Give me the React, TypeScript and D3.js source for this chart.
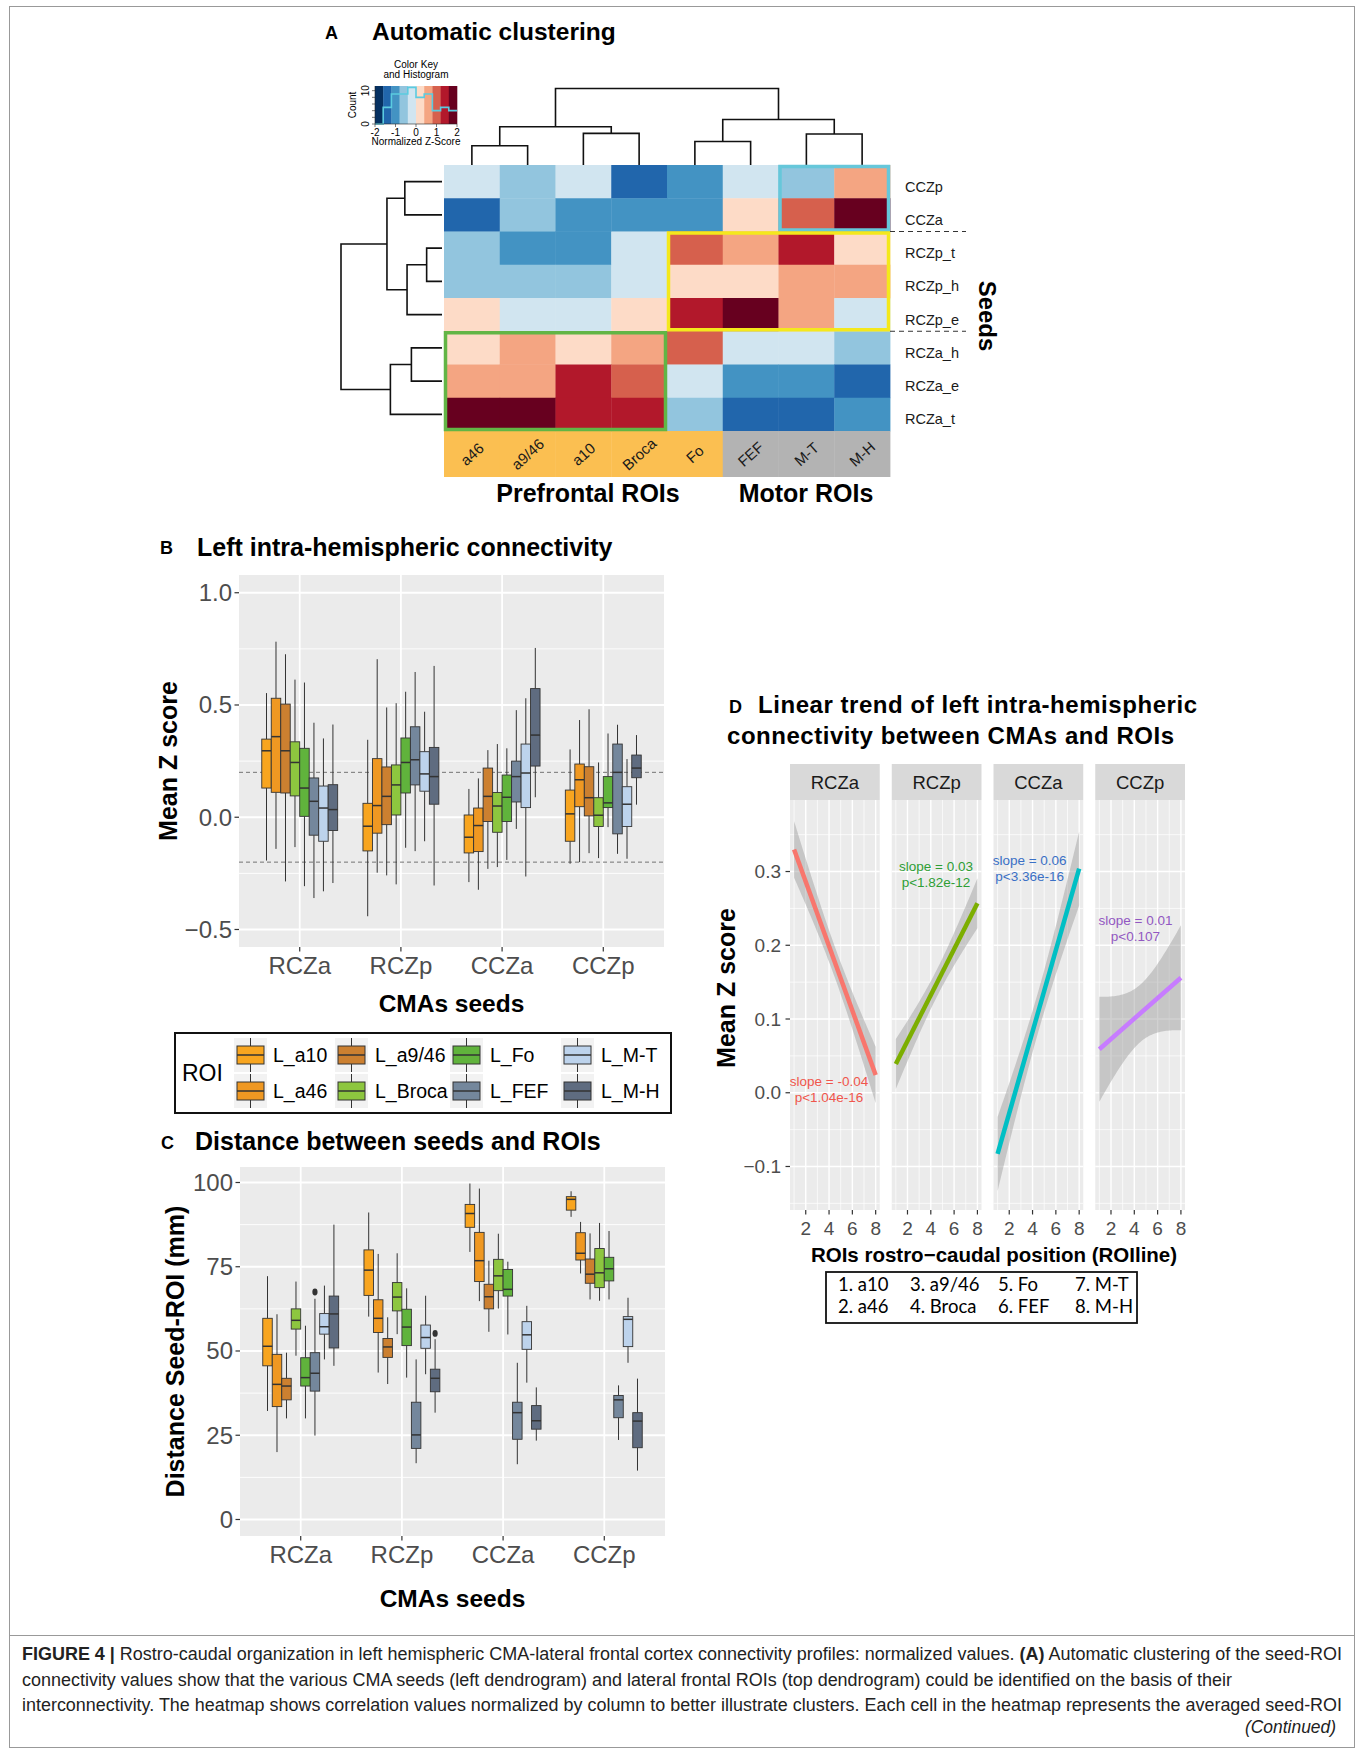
import React from 'react';
import * as d3 from 'd3';

const FONT = '"Liberation Sans", Arial, Helvetica, sans-serif';

// ---------- Panel A : heatmap ----------
const HM_COLS = ['a46', 'a9/46', 'a10', 'Broca', 'Fo', 'FEF', 'M-T', 'M-H'];
const HM_ROWS = ['CCZp', 'CCZa', 'RCZp_t', 'RCZp_h', 'RCZp_e', 'RCZa_h', 'RCZa_e', 'RCZa_t'];
const HM_Z = [
  [-0.2, -0.6, -0.2, -1.4, -1.0, -0.2, -0.6, 0.6],
  [-1.4, -0.6, -1.0, -1.0, -1.0, 0.2, 1.0, 1.8],
  [-0.6, -1.0, -1.0, -0.2, 1.0, 0.6, 1.4, 0.2],
  [-0.6, -0.6, -0.6, -0.2, 0.2, 0.2, 0.6, 0.6],
  [0.2, -0.2, -0.2, 0.2, 1.4, 1.8, 0.6, -0.2],
  [0.2, 0.6, 0.2, 0.6, 1.0, -0.2, -0.2, -0.6],
  [0.6, 0.6, 1.4, 1.0, -0.2, -1.0, -1.0, -1.4],
  [1.8, 1.8, 1.4, 1.4, -0.6, -1.4, -1.4, -1.0],
];
const HM_COL_GROUP = ['Prefrontal', 'Prefrontal', 'Prefrontal', 'Prefrontal', 'Prefrontal', 'Motor', 'Motor', 'Motor'];
const KEY_TICKS = [-2, -1, 0, 1, 2];
const KEY_BREAKS = [-1.6, -1.2, -0.8, -0.4, 0, 0.4, 0.8, 1.2, 1.6];

// merge heights of the two dendrograms (relative to the root)
const COL_TREE = {
  h: 1.0, children: [
    { h: 0.5, children: [{ h: 0.251, children: [{ name: 'a46' }, { name: 'a9/46' }] }, { h: 0.414, children: [{ name: 'a10' }, { name: 'Broca' }] }] },
    { h: 0.595, children: [{ h: 0.308, children: [{ name: 'Fo' }, { name: 'FEF' }] }, { h: 0.405, children: [{ name: 'M-T' }, { name: 'M-H' }] }] },
  ],
};
const ROW_TREE = {
  h: 1.0, children: [
    { h: 0.545, children: [
      { h: 0.368, children: [{ name: 'CCZp' }, { name: 'CCZa' }] },
      { h: 0.346, children: [{ h: 0.152, children: [{ name: 'RCZp_t' }, { name: 'RCZp_h' }] }, { name: 'RCZp_e' }] },
    ] },
    { h: 0.511, children: [{ h: 0.303, children: [{ name: 'RCZa_h' }, { name: 'RCZa_e' }] }, { name: 'RCZa_t' }] },
  ],
};
const HM_BOXES = [
  { cols: ['M-T', 'M-H'], rows: ['CCZp', 'CCZa'] },
  { cols: ['Fo', 'M-H'], rows: ['RCZp_t', 'RCZp_e'] },
  { cols: ['a46', 'Broca'], rows: ['RCZa_h', 'RCZa_t'] },
];
const HM_BOX_COLORS = ['#66C7DA', '#F4E81C', '#62B545'];

// ---------- Panels B & C : boxplots ----------
const SEEDS = ['RCZa', 'RCZp', 'CCZa', 'CCZp'];
const ROIS = ['L_a10', 'L_a46', 'L_a9/46', 'L_Broca', 'L_Fo', 'L_FEF', 'L_M-T', 'L_M-H'];
const ROI_COLORS = ['#F8A51F', '#EF9822', '#CC8030', '#8DC63F', '#60B33C', '#74879C', '#BDD3EC', '#5F6C80'];

// [lower whisker, Q1, median, Q3, upper whisker]
const B_RCZA = [
  [-0.193, 0.130, 0.296, 0.348, 0.553], [-0.141, 0.111, 0.359, 0.530, 0.782],
  [-0.286, 0.108, 0.296, 0.504, 0.726], [-0.133, 0.095, 0.244, 0.336, 0.613],
  [-0.307, 0.004, 0.130, 0.307, 0.600], [-0.360, -0.080, 0.071, 0.175, 0.421],
  [-0.330, -0.107, 0.041, 0.139, 0.351], [-0.293, -0.059, 0.034, 0.145, 0.413],
];
const B_RCZP = [
  [-0.441, -0.150, -0.040, 0.062, 0.345], [-0.247, -0.071, 0.052, 0.261, 0.704],
  [-0.259, -0.033, 0.093, 0.224, 0.489], [-0.299, 0.010, 0.144, 0.233, 0.508],
  [-0.136, 0.108, 0.244, 0.353, 0.559], [-0.151, 0.144, 0.256, 0.403, 0.647],
  [-0.107, 0.116, 0.193, 0.292, 0.470], [-0.304, 0.058, 0.181, 0.311, 0.674],
];
const B_CCZA = [
  [-0.289, -0.159, -0.089, 0.010, 0.126], [-0.323, -0.153, -0.037, 0.041, 0.173],
  [-0.230, -0.019, 0.093, 0.219, 0.299], [-0.222, -0.067, 0.050, 0.110, 0.326],
  [-0.190, -0.019, 0.089, 0.188, 0.307], [-0.052, 0.068, 0.181, 0.250, 0.477],
  [-0.264, 0.043, 0.197, 0.326, 0.530], [0.089, 0.228, 0.366, 0.573, 0.754],
];
const B_CCZP = [
  [-0.207, -0.107, 0.015, 0.121, 0.302], [-0.200, 0.047, 0.167, 0.237, 0.433],
  [-0.160, 0.006, 0.087, 0.225, 0.481], [-0.182, -0.041, 0.009, 0.087, 0.244],
  [-0.044, 0.043, 0.064, 0.181, 0.373], [-0.163, -0.074, 0.200, 0.326, 0.412],
  [-0.185, -0.041, 0.058, 0.136, 0.259], [0.056, 0.176, 0.219, 0.277, 0.366],
];
const B_TICKS = [-0.5, 0, 0.5, 1.0];
const B_MINOR = [-0.25, 0.25, 0.75];
const B_REFS = [-0.2, 0.2];

const C_RCZA = [
  [32.2, 45.6, 51.4, 59.7, 72.2], [20.0, 33.5, 40.1, 49.0, 60.9],
  [30.0, 35.5, 39.6, 41.9, 49.5], [48.6, 56.5, 59.1, 62.5, 70.6],
  [30.0, 39.6, 42.1, 48.0, 57.5], [24.9, 38.1, 43.4, 49.5, 65.5],
  [47.5, 55.0, 57.2, 61.1, 69.4], [45.6, 50.9, 61.0, 66.3, 87.5],
];
const C_RCZP = [
  [60.2, 66.5, 74.0, 80.0, 91.1], [43.6, 55.5, 59.7, 65.2, 78.8],
  [40.2, 48.1, 51.2, 53.7, 60.0], [55.0, 61.9, 66.0, 70.3, 79.0],
  [42.1, 51.6, 57.1, 62.4, 68.6], [16.7, 21.1, 25.1, 34.8, 47.5],
  [43.1, 50.8, 54.0, 57.7, 66.4], [31.7, 37.9, 41.9, 44.6, 53.5],
];
const C_CCZA = [
  [79.4, 86.7, 90.8, 93.5, 99.7], [64.8, 70.6, 76.8, 85.2, 98.2],
  [55.7, 62.5, 66.1, 69.8, 76.8], [62.6, 67.9, 72.3, 77.2, 84.8],
  [54.9, 66.3, 68.3, 74.2, 76.5], [16.4, 23.8, 31.7, 34.8, 46.5],
  [40.6, 50.5, 54.8, 58.7, 63.4], [23.4, 26.8, 29.3, 33.8, 39.2],
];
const C_CCZP = [
  [89.8, 91.8, 95.0, 95.8, 97.4], [73.0, 77.0, 79.0, 85.1, 88.3],
  [65.3, 70.1, 72.8, 77.3, 84.9], [64.9, 68.8, 73.2, 80.4, 88.0],
  [65.3, 70.8, 74.4, 77.8, 85.6], [23.6, 30.2, 35.5, 36.8, 39.8],
  [46.5, 51.3, 59.4, 60.2, 65.8], [14.5, 21.3, 29.2, 31.7, 41.8],
];
const C_OUTLIERS: [string, string, number][] = [['RCZa', 'L_FEF', 67.5], ['RCZp', 'L_M-H', 55.2]];
const C_TICKS = [0, 25, 50, 75, 100];
const C_MINOR = [12.5, 37.5, 62.5, 87.5];

// ---------- Panel D : linear trends ----------
const D_FIT_AT_1 = [0.330, 0.039, -0.083, 0.059];
const D_FIT_AT_8 = [0.024, 0.257, 0.304, 0.156];
const D_SE_MID = [0.021, 0.0185, 0.0275, 0.039];
const D_COLORS = ['#F8766D', '#7CAE00', '#00BFC4', '#C77CFF'];
const D_TEXT_COLORS = ['#F0564C', '#2E9E35', '#3A70C6', '#9258C2'];
const D_SLOPE_TXT = ['slope = -0.04', 'slope = 0.03', 'slope = 0.06', 'slope = 0.01'];
const D_P_TXT = ['p<1.04e-16', 'p<1.82e-12', 'p<3.36e-16', 'p<0.107'];
const D_LABEL_X = [4.0, 4.45, 3.75, 4.1];
const D_LABEL_Y = [0.016, 0.308, 0.315, 0.234];
const D_YTICKS = [-0.1, 0, 0.1, 0.2, 0.3];
const D_YMINOR = [-0.15, -0.05, 0.05, 0.15, 0.25, 0.35];
const D_XTICKS = [2, 4, 6, 8];
const D_XMINOR = [1, 3, 5, 7];
const D_LEGEND = [['1. a10', '2. a46'], ['3. a9/46', '4. Broca'], ['5. Fo', '6. FEF'], ['7. M-T', '8. M-H']];

const CAPTION_2 = 'connectivity values show that the various CMA seeds (left dendrogram) and lateral frontal ROIs (top dendrogram) could be identified on the basis of their';
const CAPTION_3 = 'interconnectivity. The heatmap shows correlation values normalized by column to better illustrate clusters. Each cell in the heatmap represents the averaged seed-ROI';

// ------------------------------------------------------------------

type Tree = { h?: number; name?: string; children?: Tree[] };

function dendro(tree: Tree, leafPos: (n: string) => number) {
  const segs: { p1: number; h1: number; p2: number; h2: number; h: number }[] = [];
  const walk = (t: Tree): { p: number; h: number } => {
    if (!t.children) return { p: leafPos(t.name!), h: 0 };
    const [a, b] = t.children.map(walk);
    segs.push({ p1: a.p, h1: a.h, p2: b.p, h2: b.h, h: t.h! });
    return { p: (a.p + b.p) / 2, h: t.h! };
  };
  walk(tree);
  return segs;
}

function PanelA() {
  const cx = d3.scaleBand(HM_COLS, [444, 890]);
  const ry = d3.scaleBand(HM_ROWS, [165, 431]);
  const palette = d3.schemeRdBu[10].slice().reverse();
  const color = d3.scaleQuantize<string>().domain([-2, 2]).range(palette);
  const topH = d3.scaleLinear([0, 1], [165, 88.5]);
  const leftH = d3.scaleLinear([0, 1], [442, 341]);
  const colSegs = dendro(COL_TREE, (n) => cx(n)! + cx.bandwidth() / 2);
  const rowSegs = dendro(ROW_TREE, (n) => ry(n)! + ry.bandwidth() / 2);

  // color key
  const kx = d3.scaleLinear([-2, 2], [375, 457]);
  const allZ = HM_Z.flat();
  const bins = d3.bin().domain([-2, 2]).thresholds(KEY_BREAKS)(allZ);
  const ky = d3.scaleLinear([0, 11.4], [124, 86]);
  const histPts: [number, number][] = bins.map((b) => [b.x0!, b.length]);
  histPts.push([2, bins[bins.length - 1].length]);
  const histLine = d3.line<[number, number]>().x((d) => kx(d[0])).y((d) => ky(d[1])).curve(d3.curveStepAfter);
  const keyBins = d3.range(10).map((i) => -2 + i * 0.4);

  return (
    <g>
      <text x={325} y={39} fontSize={18} fontWeight="bold">A</text>
      <text x={372} y={40} fontSize={24.5} fontWeight="bold">Automatic clustering</text>

      {/* color key */}
      <text x={416} y={68} fontSize={10} textAnchor="middle">Color Key</text>
      <text x={416} y={78} fontSize={10} textAnchor="middle">and Histogram</text>
      {keyBins.map((b, i) => (
        <rect key={i} x={kx(b)} y={86} width={kx(b + 0.4) - kx(b) + 0.3} height={38} fill={palette[i]} />
      ))}
      <path d={histLine(histPts) ?? ''} fill="none" stroke="#5BCBE0" strokeWidth={1.6} />
      <line x1={375} x2={457} y1={124} y2={124} stroke="#222" strokeWidth={0.6} />
      <line x1={375} x2={375} y1={86} y2={124} stroke="#222" strokeWidth={0.6} />
      {KEY_TICKS.map((t) => (
        <g key={t}>
          <line x1={kx(t)} x2={kx(t)} y1={124} y2={127} stroke="#222" strokeWidth={0.6} />
          <text x={kx(t)} y={135.5} fontSize={10} textAnchor="middle">{t}</text>
        </g>
      ))}
      {[0, 2, 4, 6, 8, 10].map((t) => (
        <line key={t} x1={372} x2={375} y1={ky(t)} y2={ky(t)} stroke="#222" strokeWidth={0.6} />
      ))}
      {[0, 10].map((t) => (
        <text key={t} x={369} y={ky(t)} fontSize={10} textAnchor="middle" transform={`rotate(-90,369,${ky(t)})`}>{t}</text>
      ))}
      <text x={356} y={105} fontSize={10} textAnchor="middle" transform="rotate(-90,356,105)">Count</text>
      <text x={416} y={145} fontSize={10} textAnchor="middle">Normalized Z-Score</text>

      {/* dendrograms */}
      {colSegs.map((s, i) => (
        <path key={i} d={`M${s.p1},${topH(s.h1)}V${topH(s.h)}H${s.p2}V${topH(s.h2)}`} fill="none" stroke="#111" strokeWidth={1.6} />
      ))}
      {rowSegs.map((s, i) => (
        <path key={i} d={`M${leftH(s.h1)},${s.p1}H${leftH(s.h)}V${s.p2}H${leftH(s.h2)}`} fill="none" stroke="#111" strokeWidth={1.6} />
      ))}

      {/* cells */}
      {HM_ROWS.map((r, i) => HM_COLS.map((c, j) => (
        <rect key={r + c} x={cx(c)} y={ry(r)} width={cx.bandwidth() + 0.4} height={ry.bandwidth() + 0.4} fill={color(HM_Z[i][j])} />
      )))}

      {/* column side colors and labels */}
      {HM_COLS.map((c, j) => (
        <rect key={c} x={cx(c)} y={431} width={cx.bandwidth() + 0.4} height={46} fill={HM_COL_GROUP[j] === 'Prefrontal' ? '#FBBF51' : '#B3B3B3'} />
      ))}
      {HM_COLS.map((c) => {
        const x = cx(c)! + cx.bandwidth() / 2;
        return (
          <text key={c} x={x} y={454} fontSize={15} fill="#1a1a1a" textAnchor="middle" dominantBaseline="central" transform={`rotate(-42,${x},454)`}>{c}</text>
        );
      })}
      <text x={588} y={502} fontSize={25} fontWeight="bold" textAnchor="middle">Prefrontal ROIs</text>
      <text x={806} y={502} fontSize={25} fontWeight="bold" textAnchor="middle">Motor ROIs</text>

      {/* highlight boxes */}
      {HM_BOXES.map((b, i) => {
        const x0 = cx(b.cols[0])!, x1 = cx(b.cols[1])! + cx.bandwidth();
        const y0 = ry(b.rows[0])!, y1 = ry(b.rows[1])! + ry.bandwidth();
        return <rect key={i} x={x0 + 1.5} y={y0 + 1.5} width={x1 - x0 - 3} height={y1 - y0 - 3} fill="none" stroke={HM_BOX_COLORS[i]} strokeWidth={3.5} />;
      })}

      {/* row labels */}
      {HM_ROWS.map((r) => (
        <text key={r} x={905} y={ry(r)! + ry.bandwidth() / 2 + 10} fontSize={14.5} fill="#1a1a1a">{r}</text>
      ))}
      {['CCZa', 'RCZp_e'].map((r) => (
        <line key={r} x1={890} x2={966} y1={ry(r)! + ry.bandwidth()} y2={ry(r)! + ry.bandwidth()} stroke="#333" strokeWidth={1} strokeDasharray="5,4" />
      ))}
      <text x={979} y={316} fontSize={24} fontWeight="bold" textAnchor="middle" transform="rotate(90,979,316)">Seeds</text>
    </g>
  );
}

type BoxProps = {
  left: number; right: number; top: number; bottom: number;
  domain: [number, number]; ticks: number[]; minor: number[]; fmt: (v: number) => string;
  stats: number[][][]; refs?: number[]; outliers?: [string, string, number][];
  yTitle: string; yTitleX: number; titleY: number;
};

function BoxPanel(p: BoxProps) {
  const x = d3.scalePoint(SEEDS, [p.left, p.right]).padding(0.6);
  const step = x.step();
  const dodge = d3.scaleBand(ROIS, [-0.375 * step, 0.375 * step]);
  const y = d3.scaleLinear(p.domain, [p.bottom, p.top]);
  const midY = (p.top + p.bottom) / 2;
  return (
    <g>
      <rect x={p.left} y={p.top} width={p.right - p.left} height={p.bottom - p.top} fill="#EBEBEB" />
      {p.minor.map((t) => <line key={t} x1={p.left} x2={p.right} y1={y(t)} y2={y(t)} stroke="#fff" strokeWidth={0.9} />)}
      {p.ticks.map((t) => <line key={t} x1={p.left} x2={p.right} y1={y(t)} y2={y(t)} stroke="#fff" strokeWidth={1.8} />)}
      {SEEDS.map((s) => <line key={s} x1={x(s)} x2={x(s)} y1={p.top} y2={p.bottom} stroke="#fff" strokeWidth={1.8} />)}
      {(p.refs ?? []).map((r) => (
        <line key={r} x1={p.left} x2={p.right} y1={y(r)} y2={y(r)} stroke="#666" strokeWidth={0.9} strokeDasharray="4,3" />
      ))}
      {SEEDS.map((s, si) => p.stats[si].map((st, ri) => {
        const bx = x(s)! + dodge(ROIS[ri])!;
        const w = dodge.bandwidth();
        const c = bx + w / 2;
        return (
          <g key={s + ri}>
            <line x1={c} x2={c} y1={y(st[4])} y2={y(st[3])} stroke="#333" strokeWidth={1} />
            <line x1={c} x2={c} y1={y(st[1])} y2={y(st[0])} stroke="#333" strokeWidth={1} />
            <rect x={bx} y={y(st[3])} width={w} height={y(st[1]) - y(st[3])} fill={ROI_COLORS[ri]} stroke="#333" strokeWidth={0.9} />
            <line x1={bx} x2={bx + w} y1={y(st[2])} y2={y(st[2])} stroke="#333" strokeWidth={1.5} />
          </g>
        );
      }))}
      {(p.outliers ?? []).map(([s, r, v], i) => (
        <ellipse key={i} cx={x(s)! + dodge(r)! + dodge.bandwidth() / 2} cy={y(v)} rx={2.6} ry={3.4} fill="#333" />
      ))}
      {p.ticks.map((t) => (
        <g key={t}>
          <line x1={p.left - 4.5} x2={p.left} y1={y(t)} y2={y(t)} stroke="#333" strokeWidth={1.2} />
          <text x={p.left - 7} y={y(t) + 8.5} fontSize={24} fill="#4D4D4D" textAnchor="end">{p.fmt(t)}</text>
        </g>
      ))}
      {SEEDS.map((s) => (
        <g key={s}>
          <line x1={x(s)} x2={x(s)} y1={p.bottom} y2={p.bottom + 4.5} stroke="#333" strokeWidth={1.2} />
          <text x={x(s)} y={p.bottom + 27} fontSize={24} fill="#4D4D4D" textAnchor="middle">{s}</text>
        </g>
      ))}
      <text x={(p.left + p.right) / 2} y={p.titleY} fontSize={24.5} fontWeight="bold" textAnchor="middle">CMAs seeds</text>
      <text x={p.yTitleX} y={midY} fontSize={25} fontWeight="bold" textAnchor="middle" transform={`rotate(-90,${p.yTitleX},${midY})`}>{p.yTitle}</text>
    </g>
  );
}

function LegendB() {
  const colX = [237, 338, 453, 564];
  const rowY = [1055, 1091];
  const labX = [273, 375, 490, 601];
  return (
    <g>
      <rect x={175} y={1033} width={496} height={80} fill="none" stroke="#111" strokeWidth={2} />
      <text x={182} y={1081} fontSize={23}>ROI</text>
      {ROIS.map((r, i) => {
        const col = Math.floor(i / 2), row = i % 2;
        const kx = colX[col], ky = rowY[row];
        return (
          <g key={r}>
            <rect x={kx - 3} y={ky - 17} width={33} height={34} fill="#F2F2F2" />
            <line x1={kx + 13.5} x2={kx + 13.5} y1={ky - 17} y2={ky + 17} stroke="#333" strokeWidth={1} />
            <rect x={kx} y={ky - 9} width={27} height={18} fill={ROI_COLORS[i]} stroke="#333" strokeWidth={1} />
            <line x1={kx} x2={kx + 27} y1={ky} y2={ky} stroke="#333" strokeWidth={1.5} />
            <text x={labX[col]} y={ky + 7} fontSize={19.5}>{r}</text>
          </g>
        );
      })}
    </g>
  );
}

function PanelD() {
  const facet = d3.scaleBand(SEEDS, [790, 1185]).paddingInner(0.118);
  const y = d3.scaleLinear([-0.159, 0.397], [1210, 800]);
  const fmt = (v: number) => (v < 0 ? '\u2212' : '') + Math.abs(v).toFixed(1);
  const xs = d3.range(1, 8.001, 0.125);
  return (
    <g>
      <text x={729} y={713} fontSize={18} fontWeight="bold">D</text>
      <text x={758} y={713} fontSize={24} fontWeight="bold" textLength={439} lengthAdjust="spacing">Linear trend of left intra-hemispheric</text>
      <text x={727} y={744} fontSize={24} fontWeight="bold" textLength={447} lengthAdjust="spacing">connectivity between CMAs and ROIs</text>
      {SEEDS.map((s, i) => {
        const x0 = facet(s)!, w = facet.bandwidth();
        const x = d3.scaleLinear([0.65, 8.35], [x0, x0 + w]);
        const fit = (v: number) => D_FIT_AT_1[i] + (D_FIT_AT_8[i] - D_FIT_AT_1[i]) * (v - 1) / 7;
        // standard lm confidence band for x = 1..8
        const se = (v: number) => D_SE_MID[i] * Math.sqrt(1 + (8 * (v - 4.5) * (v - 4.5)) / 42);
        const band = d3.area<number>().x((v) => x(v)).y0((v) => y(fit(v) - se(v))).y1((v) => y(fit(v) + se(v)));
        const line = d3.line<number>().x((v) => x(v)).y((v) => y(fit(v)));
        const lx = x(D_LABEL_X[i]);
        return (
          <g key={s}>
            <rect x={x0} y={764} width={w} height={36} fill="#D9D9D9" />
            <text x={x0 + w / 2} y={788.5} fontSize={18.5} fill="#1A1A1A" textAnchor="middle">{s}</text>
            <rect x={x0} y={800} width={w} height={410} fill="#EBEBEB" />
            {D_YMINOR.map((t) => <line key={t} x1={x0} x2={x0 + w} y1={y(t)} y2={y(t)} stroke="#fff" strokeWidth={0.7} />)}
            {D_XMINOR.map((t) => <line key={t} x1={x(t)} x2={x(t)} y1={800} y2={1210} stroke="#fff" strokeWidth={0.7} />)}
            {D_YTICKS.map((t) => <line key={t} x1={x0} x2={x0 + w} y1={y(t)} y2={y(t)} stroke="#fff" strokeWidth={1.4} />)}
            {D_XTICKS.map((t) => <line key={t} x1={x(t)} x2={x(t)} y1={800} y2={1210} stroke="#fff" strokeWidth={1.4} />)}
            <path d={band(xs) ?? ''} fill="#999" fillOpacity={0.45} />
            <path d={line([1, 8]) ?? ''} stroke={D_COLORS[i]} strokeWidth={4.5} fill="none" />
            <text x={lx} y={y(D_LABEL_Y[i]) + 5} fontSize={13.5} fill={D_TEXT_COLORS[i]} textAnchor="middle">{D_SLOPE_TXT[i]}</text>
            <text x={lx} y={y(D_LABEL_Y[i]) + 5 + 16} fontSize={13.5} fill={D_TEXT_COLORS[i]} textAnchor="middle">{D_P_TXT[i]}</text>
            {D_XTICKS.map((t) => (
              <g key={t}>
                <line x1={x(t)} x2={x(t)} y1={1210} y2={1214.5} stroke="#333" strokeWidth={1.2} />
                <text x={x(t)} y={1235} fontSize={19} fill="#4D4D4D" textAnchor="middle">{t}</text>
              </g>
            ))}
          </g>
        );
      })}
      {D_YTICKS.map((t) => (
        <g key={t}>
          <line x1={785.5} x2={790} y1={y(t)} y2={y(t)} stroke="#333" strokeWidth={1.2} />
          <text x={781} y={y(t) + 6.5} fontSize={19} fill="#4D4D4D" textAnchor="end">{fmt(t)}</text>
        </g>
      ))}
      <text x={735} y={988} fontSize={25} fontWeight="bold" textAnchor="middle" transform="rotate(-90,735,988)">Mean Z score</text>
      <text x={994} y={1262} fontSize={20.5} fontWeight="bold" textAnchor="middle">ROIs rostro{'\u2212'}caudal position (ROIline)</text>
      <rect x={826} y={1272} width={311} height={51} fill="none" stroke="#111" strokeWidth={1.8} />
      {D_LEGEND.map((col, i) => col.map((t, j) => (
        <text key={t} x={[838, 910, 998, 1075][i]} y={1291 + j * 22} fontSize={18.5} fontFamily="Lato, 'Open Sans', sans-serif">{t}</text>
      )))}
    </g>
  );
}

function Caption() {
  return (
    <g fill="#222" fontSize={17.5}>
      <text x={22} y={1660} textLength={1320} lengthAdjust="spacingAndGlyphs">
        <tspan fontWeight="bold">FIGURE 4 |</tspan>
        <tspan> Rostro-caudal organization in left hemispheric CMA-lateral frontal cortex connectivity profiles: normalized values. </tspan>
        <tspan fontWeight="bold">(A)</tspan>
        <tspan> Automatic clustering of the seed-ROI</tspan>
      </text>
      <text x={22} y={1686} textLength={1210} lengthAdjust="spacingAndGlyphs">{CAPTION_2}</text>
      <text x={22} y={1711} textLength={1320} lengthAdjust="spacingAndGlyphs">{CAPTION_3}</text>
      <text x={1245} y={1733} fontStyle="italic" textLength={91} lengthAdjust="spacingAndGlyphs">(Continued)</text>
    </g>
  );
}

export default function App() {
  const bFmt = (v: number) => (v < 0 ? '\u2212' : '') + Math.abs(v).toFixed(1);
  return (
    <svg width={1360} height={1753} style={{ position: 'absolute', left: 0, top: 0, background: '#fff' }} fontFamily={FONT}>
      <rect x={0} y={0} width={1360} height={1753} fill="#fff" />
      <rect x={9.5} y={6.5} width={1345} height={1741} fill="none" stroke="#999" strokeWidth={1} />
      <line x1={9.5} x2={1354.5} y1={1635.5} y2={1635.5} stroke="#999" strokeWidth={1} />

      <PanelA />

      <text x={160} y={554} fontSize={18} fontWeight="bold">B</text>
      <text x={197} y={556} fontSize={25} fontWeight="bold">Left intra-hemispheric connectivity</text>
      <BoxPanel left={239} right={664} top={575} bottom={947} domain={[-0.578, 1.079]}
        ticks={B_TICKS} minor={B_MINOR} fmt={bFmt} stats={[B_RCZA, B_RCZP, B_CCZA, B_CCZP]} refs={B_REFS}
        yTitle="Mean Z score" yTitleX={177} titleY={1012} />
      <LegendB />

      <text x={161} y={1149} fontSize={18} fontWeight="bold">C</text>
      <text x={195} y={1150} fontSize={25} fontWeight="bold">Distance between seeds and ROIs</text>
      <BoxPanel left={240} right={665} top={1167} bottom={1536} domain={[-4.9, 104.6]}
        ticks={C_TICKS} minor={C_MINOR} fmt={(v) => String(v)} stats={[C_RCZA, C_RCZP, C_CCZA, C_CCZP]}
        outliers={C_OUTLIERS} yTitle="Distance Seed-ROI (mm)" yTitleX={184} titleY={1607} />

      <PanelD />
      <Caption />
    </svg>
  );
}
